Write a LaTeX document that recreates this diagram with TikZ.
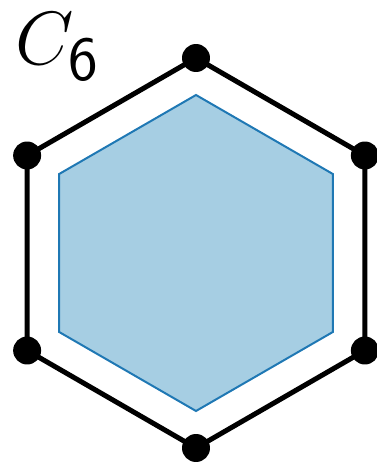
\documentclass[tikz,border=0pt]{standalone}
\definecolor{hexfill}{HTML}{A6CEE3}
\definecolor{hexedge}{HTML}{1F78B4}
\tikzset{
  vdot/.style={circle, fill=black, inner sep=0pt, minimum size=0.56cm},
  ring/.style={line width=0.1cm, black},
}
\begin{document}
\begin{tikzpicture}[x=0.02cm, y=0.02cm]
    \useasboundingbox (0,0) rectangle (376,464);
    % --- inner hexagon ---
    \filldraw[fill=hexfill, draw=hexedge, line width=0.04cm, line join=miter]
      ([shift={(196,211)}]90:158) -- ([shift={(196,211)}]150:158) -- ([shift={(196,211)}]210:158)
      -- ([shift={(196,211)}]270:158) -- ([shift={(196,211)}]330:158) -- ([shift={(196,211)}]30:158) -- cycle;
    % --- vertices of C6 ---
    \foreach \i [evaluate=\i as \a using 90+60*(\i-1)] in {1,...,6} {
      \node[vdot] (v\i) at ([shift={(196,211)}]\a:195) {};
    }
    \draw[ring, line join=miter] (v1.center) -- (v2.center) -- (v3.center) -- (v4.center)
      -- (v5.center) -- (v6.center) -- cycle;
    % --- label ---
    \node[anchor=base west, inner sep=0pt, font=\Huge] (name) at (15,399) {\scalebox{1.73}{$C_{\mathsf{6}}$}};
  \end{tikzpicture}
\end{document}
